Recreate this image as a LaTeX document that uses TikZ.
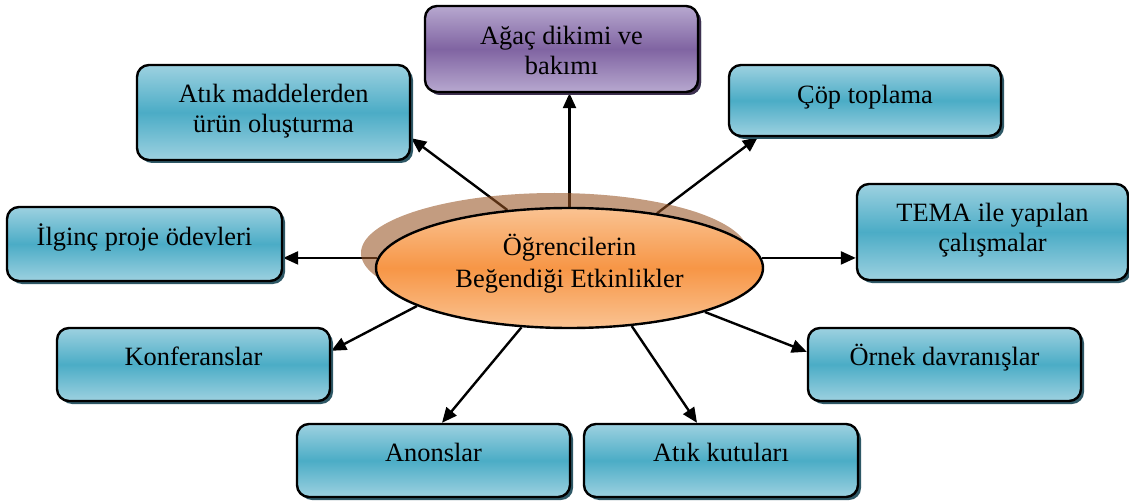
\documentclass[tikz,border=0pt]{standalone}
\usepackage{fontspec}
\setmainfont{Liberation Serif}
\usetikzlibrary{shapes.geometric,arrows.meta,shadows,backgrounds}

\definecolor{tealmid}{HTML}{4BACC6}
\definecolor{teallight}{HTML}{9DD1E0}
\definecolor{tealshadow}{HTML}{2E5866}
\definecolor{purplemid}{HTML}{8064A2}
\definecolor{purplelight}{HTML}{B7A8CF}
\definecolor{purpleshadow}{HTML}{3E3050}
\definecolor{orangemid}{HTML}{F79646}
\definecolor{orangelight}{HTML}{FAC392}
\definecolor{halo}{RGB}{152,84,36}

\tikzset{
  box/.style={draw=black, line width=1.2pt, rounded corners=6pt, inner sep=0pt,
    minimum width=136.5pt, minimum height=36.5pt,
    top color=teallight, bottom color=teallight, middle color=tealmid,
    drop shadow={shadow xshift=1.5pt, shadow yshift=-1.5pt, fill=tealshadow, opacity=1}},
  purplebox/.style={box, top color=purplelight, bottom color=purplelight, middle color=purplemid,
    drop shadow={shadow xshift=1.5pt, shadow yshift=-1.5pt, fill=purpleshadow, opacity=1}},
  % anchor=base sits on the baseline of the last line
  boxtext/.style={font=\fontsize{13.2}{15}\selectfont, align=center, anchor=base, inner sep=0pt},
  hub/.style={ellipse, draw=black, line width=1.2pt, inner sep=0pt,
    minimum width=193.5pt, minimum height=60pt,
    top color=orangelight, bottom color=orangelight, middle color=orangemid},
  hubhalo/.style={ellipse, inner sep=0pt, minimum width=193.5pt, minimum height=60pt,
    fill=halo, fill opacity=0.58},
  hubtext/.style={font=\fontsize{13.2}{16.3}\selectfont, align=center, anchor=base, inner sep=0pt},
  link/.style={line width=1.2pt, -{Triangle[length=7.5pt,width=6.5pt]}}
}

\begin{document}
\begin{tikzpicture}[x=0.5pt, y=-0.5pt]
  \useasboundingbox (0,0) rectangle (1129,502);

  % central ellipse with its offset halo
  \node[hubhalo] (halo) at (554.5,253) {};
  \node[hub] (hub) at (569.5,268) {};
  \node[hubtext] at ([yshift=-40.5pt]hub.north) {Öğrencilerin\\Beğendiği Etkinlikler};

  % surrounding activity boxes
  \node[purplebox, minimum height=43pt] (agac) at (561.5,49) {};
  \node[box, minimum height=47.5pt] (atik) at (273.5,112.5) {};
  \node[box, minimum width=136pt, minimum height=35.5pt] (cop) at (865,100.5) {};
  \node[box, minimum width=137.5pt, minimum height=37pt] (ilginc) at (144.5,244) {};
  \node[box, minimum width=135.5pt, minimum height=48pt] (tema) at (992.5,232) {};
  \node[box] (konf) at (193.5,364.5) {};
  \node[box] (ornek) at (944.5,364.5) {};
  \node[box] (anons) at (433.5,460.5) {};
  \node[box, minimum width=137pt] (kutu) at (721,460.5) {};

  \node[boxtext] at ([yshift=-35pt]agac.north) {Ağaç dikimi ve\\bakımı};
  \node[boxtext] at ([yshift=-34.5pt]atik.north) {Atık maddelerden\\ürün oluşturma};
  \node[boxtext] at ([yshift=-20pt]cop.north) {Çöp toplama};
  \node[boxtext] at ([yshift=-20pt]ilginc.north) {İlginç proje ödevleri};
  \node[boxtext] at ([yshift=-34.5pt]tema.north) {TEMA ile yapılan\\çalışmalar};
  \node[boxtext] at ([yshift=-19.5pt]konf.north) {Konferanslar};
  \node[boxtext] at ([yshift=-19.5pt]ornek.north) {Örnek davranışlar};
  \node[boxtext] at ([yshift=-19.5pt]anons.north) {Anonslar};
  \node[boxtext] at ([yshift=-19.5pt]kutu.north) {Atık kutuları};

  % connectors run beneath the halo and the ellipse
  \begin{pgfonlayer}{background}
    \draw[link] (hub.north) -- (hub.north |- agac.south);
    \draw[link] (hub.137) -- ([yshift=11.5pt]atik.south east);
    \draw[link] (hub.32) -- ([xshift=15pt]cop.south west);
    \draw[link] (hub.177) -- (hub.177 -| ilginc.east);
    \draw[link] (hub.3) -- (hub.3 -| tema.west);
    \draw[link] (hub.194.6) -- ([yshift=-12pt]konf.north east);
    \draw[link] (hub.-18.4) -- ([yshift=-12.5pt]ornek.north west);
    \draw[link] (hub.231.6) -- ([xshift=4.25pt]anons.north);
    \draw[link] (hub.-43.3) -- ([xshift=-12pt]kutu.north);
  \end{pgfonlayer}
\end{tikzpicture}
\end{document}
